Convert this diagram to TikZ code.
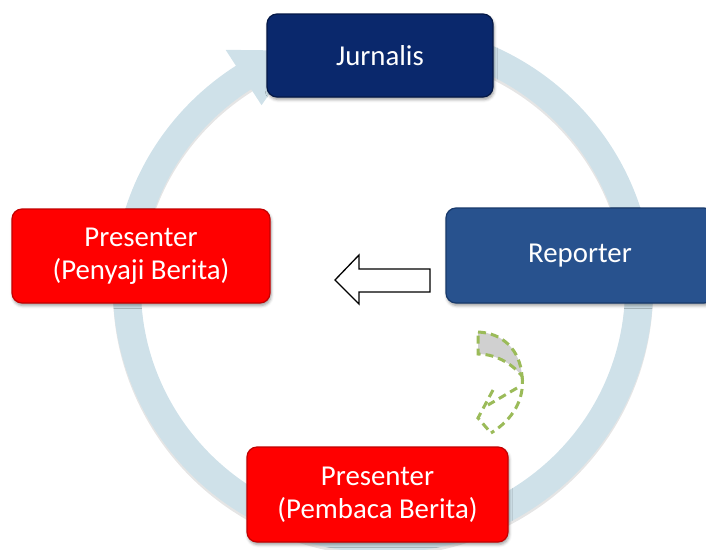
\documentclass[tikz,border=0pt]{standalone}
\usepackage{fontspec}
\setmainfont{Carlito}
\usetikzlibrary{shadows.blur}
\definecolor{ringc}{RGB}{207,225,233}
\definecolor{navy}{RGB}{10,40,108}
\definecolor{navyd}{RGB}{4,24,70}
\definecolor{steel}{RGB}{40,82,142}
\definecolor{steeld}{RGB}{24,58,108}
\definecolor{redf}{RGB}{255,0,0}
\definecolor{redd}{RGB}{195,0,0}
\definecolor{dgreen}{RGB}{155,187,89}
\definecolor{dgray}{RGB}{208,208,208}
\begin{document}
\begin{tikzpicture}[x=1pt,y=-1pt,
  box/.style={rectangle, rounded corners=10pt, text=white, align=center,
    font=\fontsize{28.8}{33}\selectfont, line width=1.2pt, inner sep=0pt,
    blur shadow={shadow xshift=1pt, shadow yshift=-2.5pt, shadow blur radius=3pt, shadow opacity=40}},
  ringline/.style={line width=28pt, ringc},
  dashgreen/.style={draw=dgreen, line width=3pt, dash pattern=on 8pt off 5pt},
  hollowarrow/.style={draw=black, fill=white, line width=1.3pt, line join=miter}
]
\useasboundingbox (0,0) rectangle (706,549);
\clip (0,0) rectangle (706,549);

% ring shadow
\draw[line width=28pt, black, draw opacity=0.10, shift={(0,3)}]
  (383,288) ++(-75:256 and 251) arc[start angle=-75, end angle=238, x radius=256, y radius=251];
% ring
\draw[ringline]
  (383,288) ++(-75:256 and 251) arc[start angle=-75, end angle=238, x radius=256, y radius=251];
% ring arrowhead
\fill[ringc, shift={(383,288)}]
  (237:289 and 284) -- (251:256 and 251) -- (237:223 and 218) -- cycle;

% boxes
\node[box, fill=navy, draw=navyd, minimum width=226, minimum height=83] (jur) at (380,55.5) {Jurnalis};
\node[box, fill=steel, draw=steeld, minimum width=268, minimum height=95] (rep) at (580,255.5) {Reporter};
\node[box, fill=redf, draw=redd, minimum width=258, minimum height=94] (pen) at (141,256) {Presenter\\(Penyaji Berita)};
\node[box, fill=redf, draw=redd, minimum width=261, minimum height=95] (pem) at (377.5,494.5) {Presenter\\(Pembaca Berita)};

% white block arrow
\draw[hollowarrow] (430,269) -- (359,269) -- (359,255) -- (335,280) -- (359,304) -- (359,292) -- (430,292) -- cycle;

% dashed curved arrow
\filldraw[fill=dgray, dashgreen] (478,332) .. controls (503,333) and (520,350) .. (522,376)
  .. controls (514,366) and (498,354) .. (478,354) -- cycle;
\draw[dashgreen] (522,376) .. controls (525,400) and (512,420) .. (491,433);
\draw[dashgreen] (493,390) -- (478,418) -- (491,433);
\draw[dashgreen] (517,388) -- (488,405);
\end{tikzpicture}
\end{document}
